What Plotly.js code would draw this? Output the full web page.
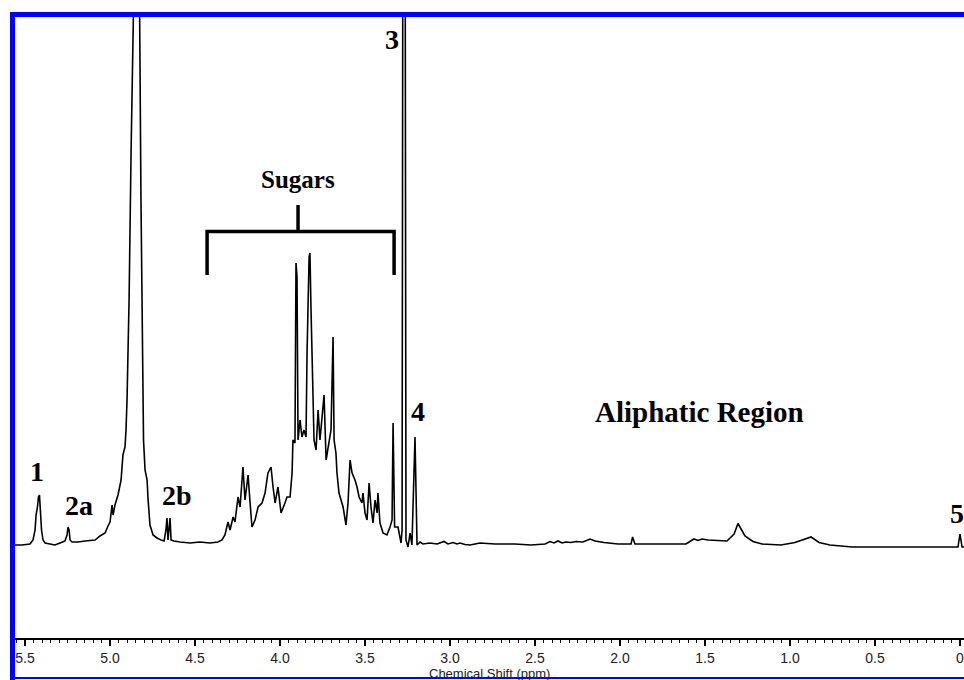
<!DOCTYPE html>
<html>
<head>
<meta charset="utf-8">
<script src="https://cdn.plot.ly/plotly-3.0.1.min.js"></script>
<style>
  html, body { margin: 0; padding: 0; background: #fff; }
  #wrap { position: relative; width: 964px; height: 680px; overflow: hidden; }
  #chart { position: absolute; left: 0; top: 0; width: 964px; height: 680px; }
  .bl { position: absolute; background: #0000ff; z-index: 5; }
</style>
</head>
<body>
<div id="wrap">
  <div id="chart"></div>
  <div class="bl" style="left:10px;top:12px;width:5px;height:668px;"></div>
  <div class="bl" style="left:10px;top:12px;width:954px;height:5px;"></div>
  <div class="bl" style="left:10px;top:677px;width:954px;height:2px;"></div>
</div>
<script>
// Chemical shift (ppm) and relative intensity
var ppm = [
  5.559, 5.518, 5.471, 5.453, 5.441, 5.435, 5.426, 5.421, 5.415, 5.409,
  5.403, 5.394, 5.382, 5.353, 5.324, 5.294, 5.265, 5.253, 5.247, 5.241,
  5.235, 5.224, 5.188, 5.147, 5.088, 5.059, 5.029, 5.012, 5.000, 4.988,
  4.982, 4.971, 4.953, 4.935, 4.924, 4.912, 4.906, 4.900, 4.888, 4.876,
  4.862, 4.844, 4.826, 4.818, 4.809, 4.803, 4.794, 4.782, 4.776, 4.765,
  4.747, 4.724, 4.700, 4.682, 4.671, 4.665, 4.659, 4.653, 4.647, 4.641,
  4.624, 4.588, 4.529, 4.471, 4.412, 4.365, 4.341, 4.324, 4.312, 4.306,
  4.294, 4.276, 4.265, 4.247, 4.235, 4.218, 4.206, 4.188, 4.176, 4.165,
  4.147, 4.129, 4.106, 4.088, 4.071, 4.053, 4.041, 4.029, 4.012, 3.994,
  3.971, 3.959, 3.941, 3.929, 3.924, 3.912, 3.906, 3.900, 3.894, 3.882,
  3.871, 3.859, 3.847, 3.841, 3.829, 3.824, 3.818, 3.809, 3.800, 3.788,
  3.776, 3.765, 3.747, 3.741, 3.729, 3.718, 3.700, 3.688, 3.682, 3.671,
  3.665, 3.653, 3.635, 3.629, 3.612, 3.600, 3.588, 3.576, 3.559, 3.547,
  3.535, 3.518, 3.512, 3.500, 3.488, 3.476, 3.465, 3.453, 3.441, 3.429,
  3.424, 3.412, 3.394, 3.371, 3.353, 3.341, 3.335, 3.326, 3.306, 3.288,
  3.282, 3.271, 3.259, 3.247, 3.235, 3.224, 3.206, 3.194, 3.176, 3.159,
  3.118, 3.076, 3.035, 3.012, 2.982, 2.959, 2.941, 2.912, 2.882, 2.824,
  2.735, 2.618, 2.524, 2.441, 2.412, 2.388, 2.365, 2.341, 2.318, 2.288,
  2.259, 2.218, 2.176, 2.147, 2.094, 2.012, 1.935, 1.926, 1.912, 1.612,
  1.565, 1.541, 1.518, 1.482, 1.371, 1.329, 1.306, 1.288, 1.265, 1.218,
  1.165, 1.053, 0.971, 0.876, 0.829, 0.765, 0.635, 0.012, 0.000, -0.012,
  -0.024
];
var intensity = [
  0, 0, 0.1, 0.5, 1.5, 3.0, 3.9, 4.8, 5.0, 3.0,
  1.5, 0.5, 0.2, 0.1, 0, 0.2, 0.4, 1.0, 1.8, 1.5,
  0.5, 0.3, 0.3, 0.4, 0.5, 0.9, 1.2, 1.9, 2.3, 4.0,
  3.0, 4.0, 5.0, 6.5, 9.0, 9.8, 11.5, 14.5, 24.5, 39.5,
  53.5, 150, 53.5, 34.5, 14.5, 10.5, 7.5, 6.5, 4.5, 2.0,
  1.0, 0.7, 0.5, 0.4, 1.5, 2.7, 0.5, 1.5, 2.7, 0.5,
  0.4, 0.3, 0.2, 0.3, 0.2, 0.3, 0.5, 1.0, 1.8, 2.3,
  1.5, 2.8, 2.3, 4.8, 3.8, 7.8, 4.5, 7.0, 4.2, 1.8,
  2.5, 3.8, 4.2, 5.2, 7.2, 7.8, 5.8, 4.2, 5.8, 3.2,
  4.2, 4.8, 4.8, 7.2, 10.5, 10.2, 28.2, 26.8, 10.5, 12.5,
  10.8, 11.5, 10.8, 19.2, 28.8, 29.2, 23.8, 15.2, 10.5, 9.5,
  13.5, 10.5, 13.8, 15.0, 8.5, 9.8, 11.5, 20.8, 10.5, 9.2,
  7.2, 5.2, 4.2, 3.8, 2.0, 4.2, 8.5, 7.2, 6.5, 5.8,
  4.8, 4.2, 5.2, 3.2, 2.5, 6.2, 3.8, 2.2, 4.5, 3.2,
  5.2, 2.2, 1.2, 1.0, 1.8, 2.5, 12.2, 1.8, 1.8, 0.2,
  1.5, 150, 0.5, -0.2, 1.2, 0, 10.8, 0, 0.3, 0.1,
  0.2, 0.1, 0.35, 0.1, 0.25, 0.1, 0.2, 0.05, 0, 0.2,
  0.1, 0.1, 0, 0.1, 0.35, 0.2, 0.4, 0.2, 0.3, 0.25,
  0.35, 0.3, 0.6, 0.4, 0.25, 0.1, 0.1, 0.8, 0.1, 0.1,
  0.6, 0.45, 0.6, 0.5, 0.4, 1.1, 2.15, 1.6, 0.9, 0.35,
  0.1, 0, 0.25, 0.8, 0.25, 0, -0.2, -0.2, 1.1, -0.2,
  -0.2
];

// Axis ticks
var tickValues = [5.5, 5.0, 4.5, 4.0, 3.5, 3.0, 2.5, 2.0, 1.5, 1.0, 0.5, 0];
var tickLabels = ['5.5', '5.0', '4.5', '4.0', '3.5', '3.0', '2.5', '2.0', '1.5', '1.0', '0.5', '0'];
var xAxisTitle = 'Chemical Shift (ppm)';

var serif = 'Liberation Serif, Times New Roman, serif';
function lbl(text, x, y, size) {
  return {
    x: x, y: y, xref: 'x', yref: 'y',
    text: '<b>' + text + '</b>', showarrow: false,
    xanchor: 'center', yanchor: 'middle',
    font: { family: serif, size: size, color: '#000' }
  };
}

var trace = {
  x: ppm, y: intensity, type: 'scatter', mode: 'lines',
  line: { color: '#000', width: 1.6 },
  hoverinfo: 'skip', showlegend: false
};

var layout = {
  width: 964, height: 680,
  margin: { l: 15, r: 0, t: 17, b: 42, pad: 0 },
  paper_bgcolor: '#fff', plot_bgcolor: '#fff',
  showlegend: false,
  xaxis: {
    range: [5.559, -0.0235], autorange: false,
    showgrid: false, zeroline: false,
    showline: true, linecolor: '#000', linewidth: 2,
    tickmode: 'array', tickvals: tickValues, ticktext: tickLabels,
    ticks: 'outside', ticklen: 6, tickwidth: 1.5, tickcolor: '#000',
    ticklabelstandoff: 0,
    ticklabeloverflow: 'allow',
    tickfont: { family: 'Liberation Sans, Arial, sans-serif', size: 14, color: '#222' },
    minor: { tickmode: 'linear', tick0: 0, dtick: 0.05, ticks: 'outside', ticklen: 3, tickwidth: 1, tickcolor: '#000', showgrid: false },
    automargin: false
  },
  yaxis: {
    range: [-9.3, 52.8], autorange: false, visible: false,
    showgrid: false, zeroline: false
  },
  annotations: [
    lbl('1', 5.429, 7.4, 28),
    lbl('2a', 5.185, 4.0, 28),
    lbl('2b', 4.606, 5.0, 28),
    lbl('3', 3.341, 50.6, 28),
    lbl('4', 3.191, 13.4, 28),
    lbl('5', 0.018, 3.2, 28),
    lbl('Sugars', 3.894, 36.6, 25),
    lbl('Aliphatic Region', 1.532, 13.35, 29),
    { x: 0.5, y: -0.0419, xref: 'paper', yref: 'paper', xanchor: 'center', yanchor: 'top',
      text: xAxisTitle, showarrow: false,
      font: { family: 'Liberation Sans, Arial, sans-serif', size: 13, color: '#222' } }
  ],
  shapes: [
    { type: 'path', xref: 'x', yref: 'y',
      path: 'M 4.429,27.0 L 4.429,31.35 L 3.329,31.35 L 3.329,27.0',
      line: { color: '#000', width: 3.5 } },
    { type: 'line', xref: 'x', yref: 'y', x0: 3.894, x1: 3.894, y0: 31.35, y1: 34.0,
      line: { color: '#000', width: 3.5 } }
  ]
};

Plotly.newPlot('chart', [trace], layout, { displayModeBar: false, staticPlot: true });
</script>
</body>
</html>
